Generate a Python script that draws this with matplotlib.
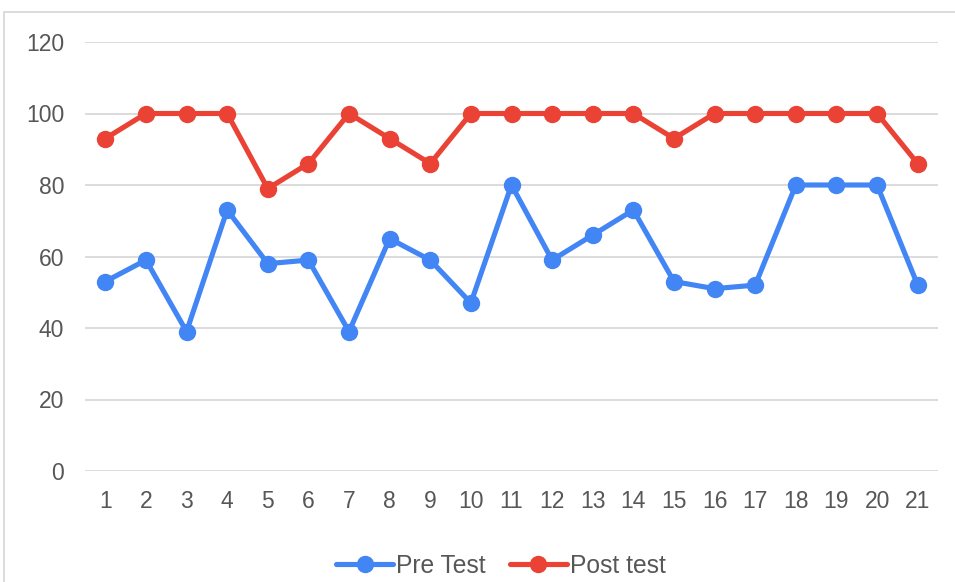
import matplotlib
matplotlib.use("Agg")
import matplotlib.pyplot as plt
from matplotlib.patches import Rectangle

# data
students = list(range(1, 22))
pre_test = [53, 59, 39, 73, 58, 59, 39, 65, 59, 47, 80, 59, 66, 73, 53, 51, 52, 80, 80, 80, 52]
post_test = [93, 100, 100, 100, 79, 86, 100, 93, 86, 100, 100, 100, 100, 100, 93, 100, 100, 100, 100, 100, 86]
y_ticks = [0, 20, 40, 60, 80, 100, 120]

BLUE = "#4285F4"
RED = "#EA4335"
GRID = "#D9D9D9"
TEXT = "#575757"

plt.rcParams["font.family"] = ["Liberation Sans", "DejaVu Sans"]

W, H = 955, 582
fig = plt.figure(figsize=(W / 100, H / 100), dpi=100)

# chart frame (bottom edge is cut off in the reference)
fig.patches.append(Rectangle((4 / W, -0.1), 1.2, 1.1 - 12 / H, transform=fig.transFigure,
                             fill=False, edgecolor="#D9D9D9", lw=1.3))

ax = fig.add_axes([85 / W, 1 - 471 / H, (938 - 85) / W, (471 - 42) / H])
ax.plot(students, pre_test, color=BLUE, lw=3.7, marker="o", ms=11.5, label="Pre Test",
        solid_joinstyle="round", solid_capstyle="round", zorder=3)
ax.plot(students, post_test, color=RED, lw=3.7, marker="o", ms=11.5, label="Post test",
        solid_joinstyle="round", solid_capstyle="round", zorder=3)

ax.set_xlim(0.5, 21.5)
ax.set_ylim(0, 120)
ax.set_xticks(students)
ax.set_yticks(y_ticks)
ax.grid(axis="y", color=GRID, lw=1.3)
ax.set_axisbelow(True)
for s in ax.spines.values():
    s.set_visible(False)
ax.tick_params(length=0, labelsize=16.5, labelcolor=TEXT)
ax.tick_params(axis="x", pad=13.5)
ax.tick_params(axis="y", pad=15)

fig.legend(loc="center", bbox_to_anchor=(501 / W, 1 - 566 / H), ncol=2, frameon=False,
           fontsize=17.7, labelcolor=TEXT, handlelength=2.3, handletextpad=0.12,
           columnspacing=1.0)

fig.savefig("out.png", dpi=100)
